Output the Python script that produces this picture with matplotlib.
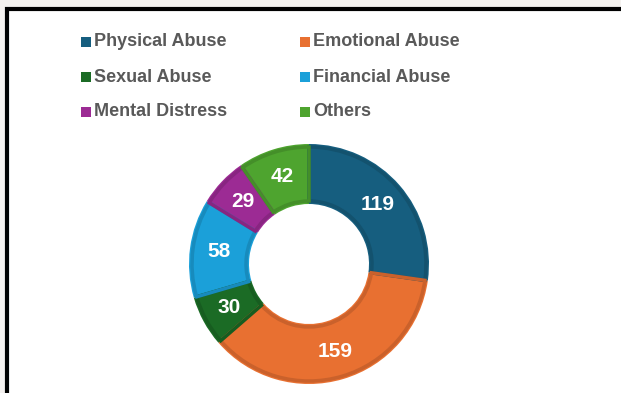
import matplotlib
matplotlib.use("Agg")
import matplotlib.pyplot as plt
from matplotlib.patches import Rectangle
import matplotlib.colors as mcolors
import numpy as np

categories = ["Physical Abuse", "Emotional Abuse", "Sexual Abuse",
              "Financial Abuse", "Mental Distress", "Others"]
counts = [119, 159, 30, 58, 29, 42]
colors = ["#165e7f", "#e87031", "#1b6b25", "#1ba0d9", "#9c2b94", "#4ea42f"]

W, H = 621, 393
fig = plt.figure(figsize=(W / 100, H / 100), dpi=100)
fig.patch.set_facecolor("#f4f1ef")

# white panel with black frame, cut off at the right and bottom
fig.patches.append(Rectangle((6.5 / W, -0.1), 1.2, (H - 8.5) / H + 0.1,
                             transform=fig.transFigure, facecolor="white",
                             edgecolor="black", lw=3, zorder=-5))


def darker(c, f=0.87):
    r, g, b = mcolors.to_rgb(c)
    return (r * f, g * f, b * f)


# donut: centre (309, 264) px, outer radius 120 px
cx, cy, R = 309, 264, 120
ax = fig.add_axes([(cx - R) / W, (H - cy - R) / H, 2 * R / W, 2 * R / H],
                  zorder=2)
ax.patch.set_visible(False)
ax.pie(counts, colors=colors, startangle=90, counterclock=False,
       radius=1.0, wedgeprops=dict(width=0.5, edgecolor="none"))
# inset darker outline on each slice
ax.pie(counts, startangle=90, counterclock=False, radius=0.975,
       colors=["none"] * len(counts),
       wedgeprops=dict(width=0.45, linewidth=2.5))
for w, c in zip(ax.patches[len(counts):], colors):
    w.set_edgecolor(darker(c))
    w.set_facecolor("none")

total = sum(counts)
start = 90.0
for v in counts:
    mid = np.deg2rad(start - 360.0 * v / total / 2)
    ax.text(0.76 * np.cos(mid), 0.76 * np.sin(mid), str(v), ha="center",
            va="center", color="white", fontsize=15, fontweight="bold",
            family="Liberation Sans")
    start -= 360.0 * v / total
ax.set_xlim(-1, 1)
ax.set_ylim(-1, 1)
ax.set_aspect("equal")
ax.axis("off")

# legend, two columns, three rows
col_x = [81, 300]
row_y = [42, 77, 112]
for i, (name, c) in enumerate(zip(categories, colors)):
    x0 = col_x[i % 2]
    y0 = row_y[i // 2]
    fig.patches.append(Rectangle((x0 / W, (H - y0 - 5) / H), 10 / W, 10 / H,
                                 transform=fig.transFigure, facecolor=c,
                                 edgecolor="none"))
    fig.text((x0 + 13) / W, (H - y0) / H, name, ha="left", va="center",
             fontsize=13, fontweight="bold", color="#595959",
             family="Liberation Sans")

fig.savefig("out.png", dpi=100, facecolor=fig.get_facecolor())
